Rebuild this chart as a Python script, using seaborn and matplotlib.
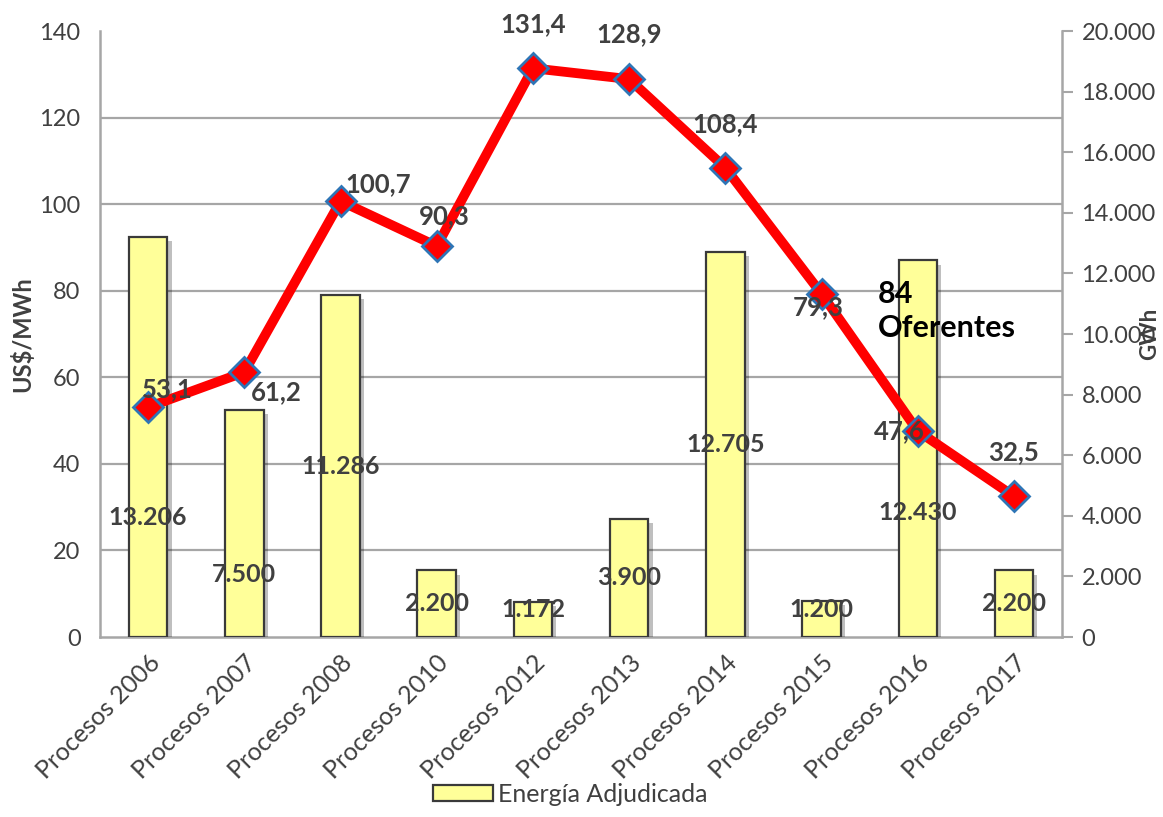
import numpy as np
import pandas as pd
import seaborn as sns
import matplotlib.pyplot as plt
import matplotlib.patheffects as pe
from matplotlib.patches import Patch
from matplotlib.ticker import FuncFormatter

sns.set_theme(style="white")
plt.rcParams["font.family"] = ["Lato", "DejaVu Sans"]

# data
procesos = ["Procesos 2006", "Procesos 2007", "Procesos 2008", "Procesos 2010", "Procesos 2012",
            "Procesos 2013", "Procesos 2014", "Procesos 2015", "Procesos 2016", "Procesos 2017"]
energia = [13206, 7500, 11286, 2200, 1172, 3900, 12705, 1200, 12430, 2200]   # GWh
precio = [53.1, 61.2, 100.7, 90.3, 131.4, 128.9, 108.4, 79.3, 47.6, 32.5]    # US$/MWh

df = pd.DataFrame({"proceso": procesos, "energia": energia, "precio": precio,
                   "pos": np.arange(len(procesos))})

# label placement (pixel offsets from marker, +y is up)
precio_off = [(19, 18), (32, -20), (38, 17), (8, 30), (0, 44),
              (0, 45), (0, 44), (-3, -13), (-18, 0), (0, 44)]
energia_lab_y = {0: 3950, 1: 2050, 8: 4100}

grey = "#A6A6A6"
txt = "#404040"

fig = plt.figure(figsize=(11.63, 8.17), dpi=100)
ax = fig.add_axes([0.086, 0.2203, 0.8272, 0.7417])
ax2 = ax.twinx()   # twinx resets ticks of ax, so style both afterwards

# bars (GWh) on the bottom axes, scale on the right
sns.barplot(data=df, x="proceso", y="energia", ax=ax, color="#FFFF99",
            edgecolor="#3A3A3A", linewidth=1.6, width=0.4, saturation=1, zorder=3)
for bar in ax.patches:
    bar.set_path_effects([pe.SimplePatchShadow(offset=(3, -3), shadow_rgbFace="#000000", alpha=0.25),
                          pe.Normal()])

ax.set_ylim(0, 20000)
ax.set_xlim(-0.5, 9.5)
ax.yaxis.tick_right()
ax.yaxis.set_label_position("right")
ax.set_yticks(np.arange(0, 20001, 2000))
ax.yaxis.set_major_formatter(FuncFormatter(lambda v, p: f"{int(v):,}".replace(",", ".")))
ax.set_yticks(np.linspace(0, 20000, 8), minor=True)
ax.grid(False)
ax.grid(which="minor", axis="y", color=grey, linewidth=1.6, zorder=0)
ax.tick_params(axis="y", which="major", left=False, right=True, labelleft=False, labelright=True,
               length=8, width=1.5, color=grey, labelsize=17, labelcolor=txt, pad=6)
ax.tick_params(axis="y", which="minor", left=False, right=False, length=0)
ax.tick_params(axis="x", bottom=False, labelsize=18, labelcolor=txt, pad=4)
ax.set_xlabel("")
ax.set_ylabel("GWh", fontsize=16, fontweight="bold", color=txt, labelpad=-12)
plt.setp(ax.get_xticklabels(), rotation=45, ha="right", rotation_mode="anchor")
for side in ["left", "right", "bottom"]:
    ax.spines[side].set_color(grey)
    ax.spines[side].set_linewidth(1.8)
ax.spines["top"].set_visible(False)

for i, v in enumerate(energia):
    y = energia_lab_y.get(i, max(v / 2, 900))
    ax.text(i, y, f"{v:,}".replace(",", "."), ha="center", va="center",
            fontsize=18, fontweight="bold", color=txt, zorder=6)

# price line on the twin axes, scale on the left
sns.lineplot(data=df, x="pos", y="precio", ax=ax2, color="#FF0000", linewidth=7,
             marker="D", markersize=15, markerfacecolor="#FF0000",
             markeredgecolor="#2E75B6", markeredgewidth=2)
ax2.set_ylim(0, 140)
ax2.set_xlim(-0.5, 9.5)
ax2.yaxis.tick_left()
ax2.yaxis.set_label_position("left")
ax2.set_yticks(np.arange(0, 141, 20))
ax2.tick_params(axis="y", left=False, right=False, labelleft=True, labelright=False,
                labelsize=17, labelcolor=txt, pad=8)
ax2.set_ylabel("US$/MWh", fontsize=17, fontweight="bold", color=txt, labelpad=4)
ax2.set_xlabel("")
ax2.grid(False)
for s in ax2.spines.values():
    s.set_visible(False)

for i, v in enumerate(precio):
    dx, dy = precio_off[i]
    ax2.annotate(f"{v:.1f}".replace(".", ","), (i, v), xytext=(dx * 0.72, dy * 0.72),
                 textcoords="offset points", ha="center", va="center",
                 fontsize=18.5, fontweight="bold", color=txt)

fig.text(878 / 1163, 1 - 311 / 817, "84\nOferentes", ha="left", va="center",
         fontsize=22, fontweight="bold", color="black", linespacing=1.25)

handle = Patch(facecolor="#FFFF99", edgecolor="#3A3A3A", linewidth=1.6)
fig.legend([handle], ["Energía Adjudicada"], loc="lower center", bbox_to_anchor=(0.49, -0.014),
           frameon=False, fontsize=18, labelcolor=txt, handlelength=2.4, handleheight=0.6,
           handletextpad=0.2)

fig.savefig("out.png", dpi=100)
